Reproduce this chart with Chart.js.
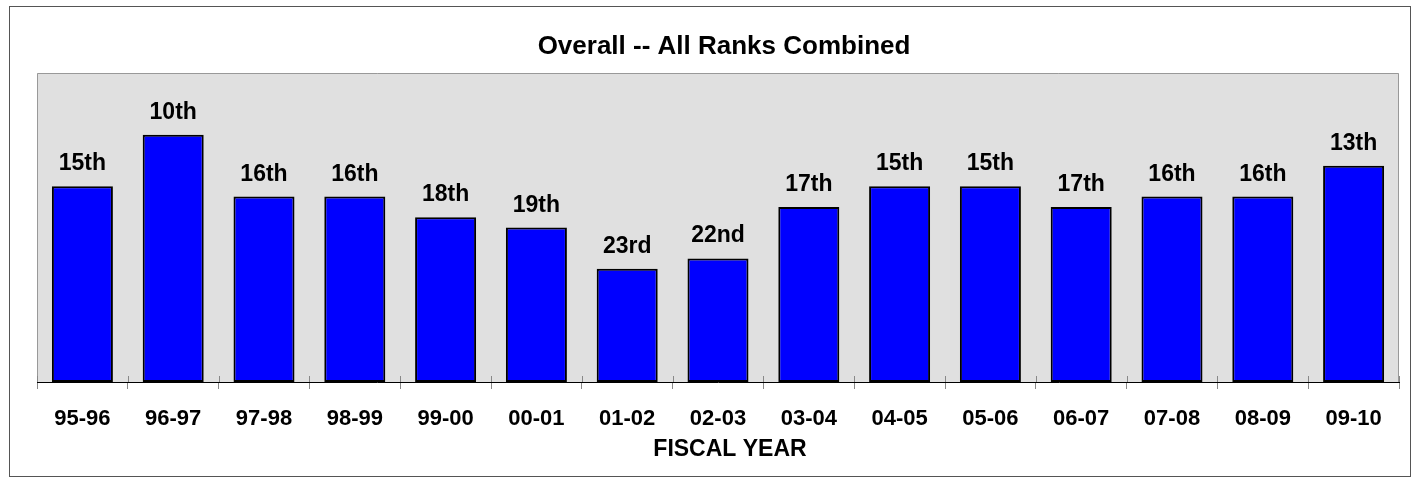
<!DOCTYPE html>
<html>
<head>
<meta charset="utf-8">
<script src="https://cdn.jsdelivr.net/npm/chart.js@4/dist/chart.umd.min.js"></script>
<style>
    html, body { margin: 0; padding: 0; background: #fff; }
    #wrap { width: 1414px; height: 479px; position: relative; }
</style>
</head>
<body>
<div id="wrap"><canvas id="rankChart"></canvas></div>
<script>
// Données
const fiscalYears = ['95-96', '96-97', '97-98', '98-99', '99-00', '00-01', '01-02', '02-03',
                     '03-04', '04-05', '05-06', '06-07', '07-08', '08-09', '09-10'];
const barHeights = [19, 24, 18, 18, 16, 15, 11, 12, 17, 19, 19, 17, 18, 18, 21];
const rankLabels = ['15th', '10th', '16th', '16th', '18th', '19th', '23rd', '22nd',
                    '17th', '15th', '15th', '17th', '16th', '16th', '13th'];
const yTicks = { min: 0, max: 30 };

const chartTitle = 'Overall -- All Ranks Combined';
const axisTitle = 'FISCAL YEAR';
const FONT = '"Liberation Sans", Arial, sans-serif';

// Fond gris, cadre et textes
const decorPlugin = {
    id: 'decor',
    beforeDraw(chart) {
        const ctx = chart.ctx;
        const a = chart.chartArea;
        ctx.save();
        ctx.fillStyle = '#fff';
        ctx.fillRect(0, 0, chart.width, chart.height);
        // cadre extérieur
        ctx.strokeStyle = '#555';
        ctx.lineWidth = 1;
        ctx.strokeRect(9.5, 6.5, 1401, 470);
        // zone de tracé
        ctx.fillStyle = '#e0e0e0';
        ctx.fillRect(a.left, a.top, a.right - a.left, a.bottom - a.top);
        ctx.strokeStyle = '#999';
        ctx.beginPath();
        ctx.moveTo(a.left + 0.5, a.bottom);
        ctx.lineTo(a.left + 0.5, a.top + 0.5);
        ctx.lineTo(a.right - 0.5, a.top + 0.5);
        ctx.lineTo(a.right - 0.5, a.bottom);
        ctx.stroke();
        // titres
        ctx.fillStyle = '#000';
        ctx.textAlign = 'center';
        ctx.textBaseline = 'alphabetic';
        ctx.font = 'bold 26px ' + FONT;
        ctx.fillText(chartTitle, 724, 54);
        ctx.font = 'bold 23px ' + FONT;
        ctx.fillText(axisTitle, 730, 456);
        ctx.restore();
    },
    afterDatasetsDraw(chart) {
        const ctx = chart.ctx;
        const a = chart.chartArea;
        const meta = chart.getDatasetMeta(0);
        ctx.save();
        // petits traits au-dessus de l'axe
        ctx.strokeStyle = '#888';
        ctx.lineWidth = 1;
        const n = fiscalYears.length;
        for (let i = 0; i <= n; i++) {
            const x = Math.round(a.left + i * (a.right - a.left) / n) + 0.5;
            ctx.beginPath();
            ctx.moveTo(x, a.bottom - 6);
            ctx.lineTo(x, a.bottom);
            ctx.stroke();
        }
        // étiquettes des rangs
        ctx.fillStyle = '#000';
        ctx.font = 'bold 23px ' + FONT;
        ctx.textAlign = 'center';
        ctx.textBaseline = 'alphabetic';
        meta.data.forEach(function(bar, i) {
            ctx.fillText(rankLabels[i], bar.x, bar.y - 16);
        });
        ctx.restore();
    }
};

const ctx = document.getElementById('rankChart').getContext('2d');
new Chart(ctx, {
    type: 'bar',
    data: {
        labels: fiscalYears,
        datasets: [{
            data: barHeights,
            backgroundColor: '#0000ff',
            borderColor: '#000',
            borderWidth: 2,
            borderSkipped: false,
            barPercentage: 0.672,
            categoryPercentage: 1
        }]
    },
    options: {
        responsive: true,
        maintainAspectRatio: false,
        animation: false,
        layout: {
            padding: { top: 73, left: 37, right: 15, bottom: 29.6 }
        },
        plugins: {
            legend: { display: false },
            title: { display: false },
            tooltip: { enabled: false }
        },
        scales: {
            x: {
                grid: {
                    display: true,
                    drawOnChartArea: false,
                    drawTicks: true,
                    tickLength: 7,
                    color: '#888'
                },
                border: { display: true, color: '#000', width: 1 },
                ticks: {
                    color: '#000',
                    padding: 17,
                    maxRotation: 0,
                    autoSkip: false,
                    font: { family: FONT, size: 22, weight: 'bold' }
                }
            },
            y: {
                display: false,
                min: yTicks.min,
                max: yTicks.max
            }
        }
    },
    plugins: [decorPlugin]
});
</script>
</body>
</html>
